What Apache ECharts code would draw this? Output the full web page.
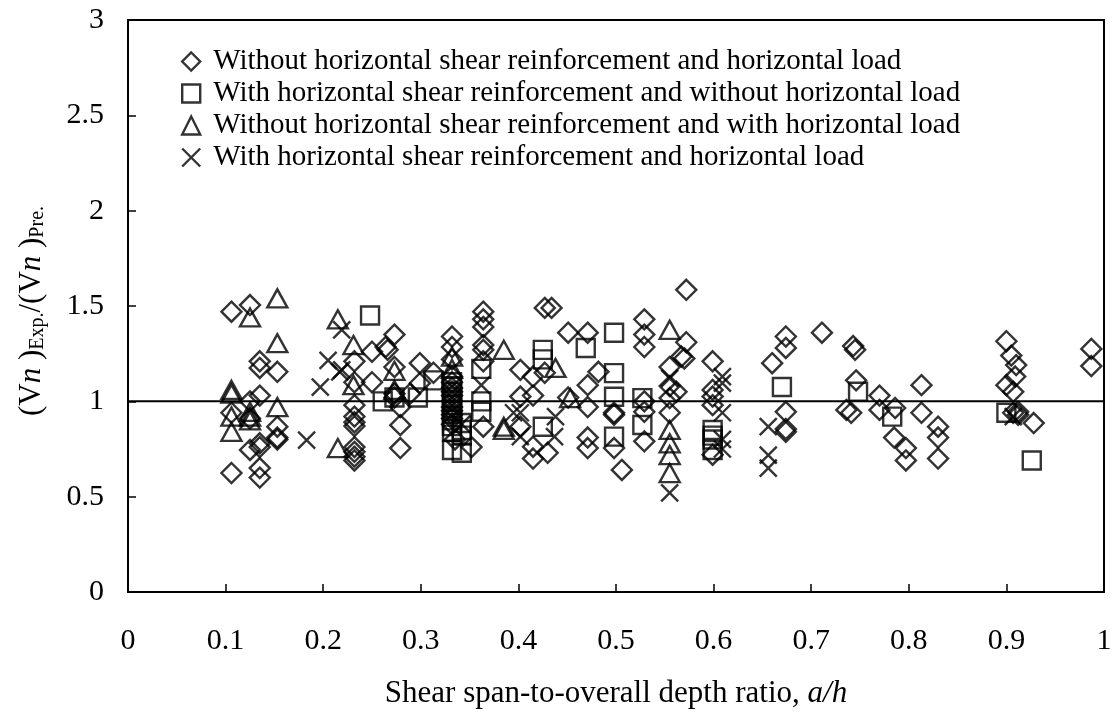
<!DOCTYPE html>
<html>
<head>
<meta charset="utf-8">
<style>
  html, body { margin: 0; padding: 0; background: #fff; }
  #chart { width: 1116px; height: 718px; }
</style>
<script src="https://cdn.jsdelivr.net/npm/echarts@6/dist/echarts.min.js"></script>
</head>
<body>
<div id="chart"></div>
<script>
// Shear strength ratio (experimental / predicted) against shear span-to-depth ratio a/h

const xTicks = [0, 0.1, 0.2, 0.3, 0.4, 0.5, 0.6, 0.7, 0.8, 0.9, 1];
const yTicks = [0, 0.5, 1, 1.5, 2, 2.5, 3];

const seriesNames = [
  'Without horizontal shear reinforcement and horizontal load',
  'With horizontal shear reinforcement and without horizontal load',
  'Without horizontal shear reinforcement and with horizontal load',
  'With horizontal shear reinforcement and horizontal load'
];

// [a/h, (Vn)Exp./(Vn)Pre.]
const withoutBoth = [
  [0.106,1.47],[0.106,0.94],[0.106,0.624],
  [0.125,1.505],[0.125,1.0],[0.125,0.91],[0.125,0.745],
  [0.135,1.21],[0.135,1.175],[0.135,1.03],[0.135,0.78],[0.135,0.76],[0.135,0.65],[0.135,0.60],
  [0.153,1.155],[0.153,0.867],[0.153,0.81],[0.153,0.80],
  [0.232,1.21],[0.232,1.10],[0.232,0.98],[0.232,0.92],[0.232,0.89],[0.232,0.87],[0.232,0.76],[0.232,0.735],[0.232,0.71],[0.232,0.69],
  [0.25,1.26],[0.25,1.10],
  [0.264,1.285],[0.266,1.27],
  [0.273,1.35],[0.273,1.18],[0.273,1.04],[0.273,1.02],
  [0.279,0.97],[0.279,0.875],[0.279,0.755],
  [0.289,1.04],[0.299,1.2],[0.299,1.095],[0.313,1.15],
  [0.332,1.34],[0.332,1.285],[0.332,1.22],[0.332,1.13],[0.332,1.10],[0.332,1.07],[0.332,1.05],[0.332,1.03],[0.332,1.0],
  [0.332,0.97],[0.332,0.95],[0.332,0.93],[0.332,0.91],[0.332,0.88],[0.335,0.8],
  [0.352,0.76],
  [0.364,1.47],[0.364,1.43],[0.364,1.39],[0.364,1.295],[0.364,1.27],[0.364,1.21],[0.364,0.867],
  [0.402,1.165],[0.402,1.025],[0.402,0.867],
  [0.415,1.13],[0.415,1.03],[0.415,0.762],[0.415,0.70],
  [0.427,1.49],[0.427,1.15],[0.43,0.73],[0.434,1.49],
  [0.451,1.36],[0.451,1.02],
  [0.471,1.36],[0.471,1.085],[0.471,0.97],[0.471,0.81],[0.471,0.755],
  [0.482,1.155],
  [0.498,0.94],[0.498,0.93],[0.498,0.755],[0.506,0.64],
  [0.529,1.43],[0.529,1.35],[0.529,1.285],[0.529,1.0],[0.529,0.945],[0.529,0.79],
  [0.555,1.18],[0.555,1.08],[0.555,1.017],[0.555,0.94],[0.562,1.05],
  [0.567,1.235],[0.57,1.225],[0.572,1.585],[0.572,1.31],
  [0.599,1.21],[0.599,1.06],[0.599,1.025],[0.599,0.98],[0.599,0.72],
  [0.66,1.2],[0.674,1.34],[0.674,1.28],[0.674,0.945],[0.674,0.855],[0.674,0.84],
  [0.711,1.36],[0.743,1.29],[0.745,1.27],[0.746,1.11],[0.736,0.955],[0.741,0.94],
  [0.77,1.03],[0.77,0.955],[0.786,0.965],[0.785,0.81],[0.797,0.755],[0.797,0.69],
  [0.813,1.085],[0.813,0.94],[0.83,0.867],[0.83,0.81],[0.83,0.70],
  [0.9,1.315],[0.905,1.24],[0.91,1.19],[0.909,1.13],[0.9,1.085],[0.907,1.05],[0.907,0.94],[0.912,0.945],[0.912,0.93],[0.928,0.886],
  [0.987,1.275],[0.987,1.185]
];

const withReinfNoLoad = [
  [0.248,1.45],[0.261,1.0],[0.273,1.02],[0.297,1.02],[0.313,1.11],
  [0.332,1.10],[0.332,1.08],[0.332,1.05],[0.332,1.02],[0.332,1.0],[0.332,0.98],[0.332,0.95],[0.332,0.92],[0.332,0.90],
  [0.332,0.87],[0.332,0.84],[0.332,0.745],
  [0.342,0.886],[0.342,0.85],[0.342,0.82],[0.342,0.73],
  [0.362,1.17],[0.362,1.0],[0.362,0.945],
  [0.425,1.27],[0.425,1.22],[0.425,0.867],
  [0.469,1.28],
  [0.498,1.36],[0.498,1.148],[0.498,1.024],[0.498,0.815],
  [0.527,1.017],[0.527,0.876],
  [0.599,0.85],[0.599,0.82],[0.599,0.80],[0.599,0.745],
  [0.67,1.075],[0.748,1.05],[0.783,0.92],[0.9,0.94],[0.926,0.69]
];

const withLoadNoReinf = [
  [0.106,1.06],[0.106,1.04],[0.106,0.92],[0.106,0.84],
  [0.125,1.44],[0.125,0.945],[0.125,0.92],[0.125,0.90],
  [0.153,1.54],[0.153,1.305],[0.153,0.97],
  [0.215,1.43],[0.215,0.755],
  [0.231,1.295],[0.231,1.085],
  [0.273,1.16],[0.273,1.06],
  [0.332,1.235],[0.332,1.17],
  [0.385,1.27],[0.385,0.867],[0.385,0.85],
  [0.438,1.175],[0.453,1.017],
  [0.555,1.375],[0.555,0.85],[0.555,0.78],[0.555,0.718],[0.555,0.624]
];

const withBoth = [
  [0.183,0.797],[0.197,1.075],[0.205,1.215],[0.217,1.155],[0.219,1.165],[0.219,1.375],
  [0.342,0.88],[0.362,1.085],
  [0.395,0.94],[0.402,0.94],[0.402,0.815],[0.437,0.815],[0.438,0.92],
  [0.555,1.12],[0.555,0.52],
  [0.609,1.13],[0.609,1.095],[0.609,0.94],[0.609,0.80],[0.609,0.75],
  [0.656,0.867],[0.656,0.718],[0.656,0.65],
  [0.907,0.92]
];

const referenceRatio = 1;

const FONT = '"Liberation Serif", "Times New Roman", serif';
const CROSS = 'path://M0,0L10,10M10,0L0,10';
const hollow = { color: 'rgba(0,0,0,0)', borderColor: '#000', borderWidth: 2.4 };

const symbols = [
  { icon: 'diamond', size: [20, 20] },
  { icon: 'rect', size: [18, 18] },
  { icon: 'triangle', size: [20, 18] },
  { icon: CROSS, size: [17, 17] }
];
const datasets = [withoutBoth, withReinfNoLoad, withLoadNoReinf, withBoth];

const series = datasets.map((pts, i) => ({
  name: seriesNames[i],
  type: 'scatter',
  data: pts,
  symbol: symbols[i].icon,
  symbolSize: symbols[i].size,
  itemStyle: hollow,
  emphasis: { disabled: true },
  silent: true
}));

// Reference line at ratio = 1
series.push({
  type: 'line',
  data: [[xTicks[0], referenceRatio], [xTicks[xTicks.length - 1], referenceRatio]],
  symbol: 'none',
  lineStyle: { color: '#000', width: 2 },
  silent: true,
  z: 1
});

const chart = echarts.init(document.getElementById('chart'), null, { renderer: 'canvas' });
chart.setOption({
  animation: false,
  backgroundColor: '#fff',
  textStyle: { fontFamily: FONT, color: '#000' },
  grid: {
    left: 128, right: 12, top: 20, bottom: 126,
    show: true, borderColor: '#000', borderWidth: 2, backgroundColor: 'transparent'
  },
  legend: {
    orient: 'vertical',
    left: 176, top: 42,
    itemWidth: 18, itemHeight: 18,
    itemGap: 3,
    selectedMode: false,
    textStyle: { fontFamily: FONT, fontSize: 29, color: '#000', lineHeight: 29, padding: [0, 0, 0, 8] },
    data: seriesNames.map((n, i) => ({
      name: n, icon: symbols[i].icon,
      itemStyle: hollow
    }))
  },
  xAxis: {
    type: 'value',
    min: xTicks[0], max: xTicks[xTicks.length - 1], interval: 0.1,
    axisLine: { show: true, lineStyle: { color: '#000', width: 2 } },
    axisTick: { show: true, inside: true, length: 8, lineStyle: { color: '#000', width: 1.5 } },
    splitLine: { show: false },
    axisLabel: {
      margin: 34, fontFamily: FONT, fontSize: 30, color: '#000',
      formatter: v => String(+v.toFixed(1))
    },
    name: '{r|Shear span-to-overall depth ratio, }{i|a/h}',
    nameLocation: 'middle',
    nameGap: 86,
    nameTextStyle: {
      rich: {
        r: { fontFamily: FONT, fontSize: 31, color: '#000' },
        i: { fontFamily: FONT, fontSize: 31, color: '#000', fontStyle: 'italic' }
      }
    }
  },
  yAxis: {
    type: 'value',
    min: yTicks[0], max: yTicks[yTicks.length - 1], interval: 0.5,
    axisLine: { show: true, lineStyle: { color: '#000', width: 2 } },
    axisTick: { show: true, inside: true, length: 8, lineStyle: { color: '#000', width: 1.5 } },
    splitLine: { show: false },
    axisLabel: {
      margin: 24, fontFamily: FONT, fontSize: 30, color: '#000',
      formatter: v => String(+v.toFixed(1))
    },
    name: '{p|(V}{n|n}{p| )}{s|Exp.}{p|/(V}{n|n}{p| )}{s|Pre.}',
    nameLocation: 'middle',
    nameRotate: 90,
    nameGap: 80,
    nameTextStyle: {
      padding: [0, 10, 0, 0],
      rich: {
        p: { fontFamily: FONT, fontSize: 31, color: '#000', lineHeight: 32, verticalAlign: 'top' },
        n: { fontFamily: FONT, fontSize: 31, color: '#000', fontStyle: 'italic', lineHeight: 32, verticalAlign: 'top' },
        s: { fontFamily: FONT, fontSize: 20, color: '#000', lineHeight: 24, verticalAlign: 'bottom', padding: [14, 0, 0, 0] }
      }
    }
  },
  series: series
});
</script>
</body>
</html>
